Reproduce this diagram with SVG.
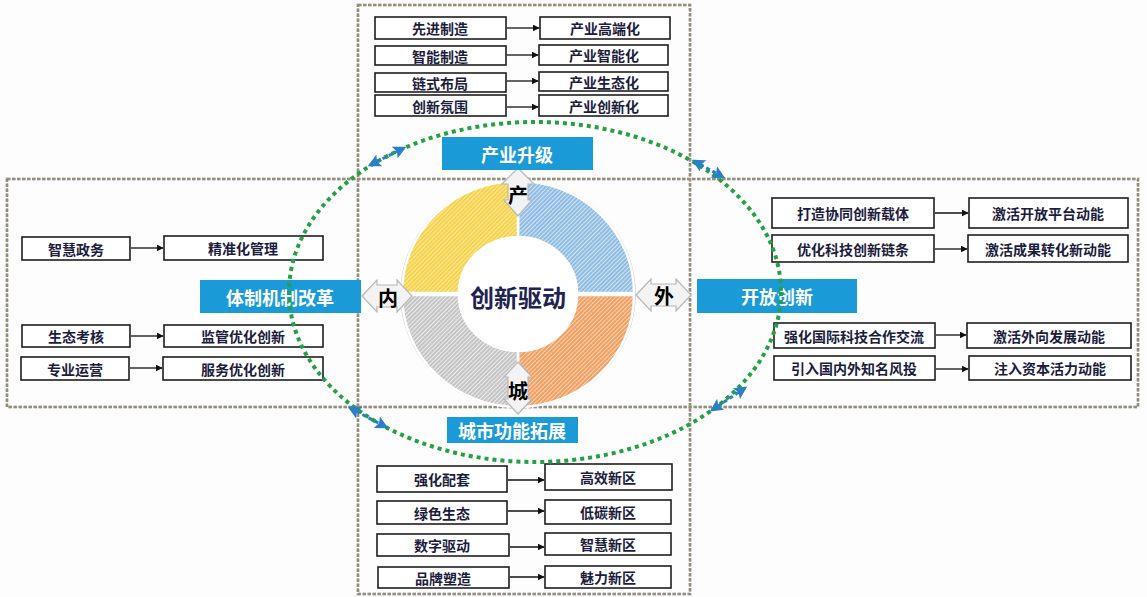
<svg xmlns="http://www.w3.org/2000/svg" width="1147" height="597" viewBox="0 0 1147 597">
<style>
.bg{fill:#fdfdfd}
.dp{fill:none;stroke:#d79ac4;stroke-width:3;stroke-dasharray:3.5 1.5}
.dg{fill:none;stroke:#6a9a55;stroke-width:1.6;stroke-dasharray:3.5 1.5}
.box{fill:#ffffff;stroke:#1e1e1e;stroke-width:1.6}
.bt{font-family:"Noto Sans CJK SC","Noto Sans",sans-serif;font-weight:700;font-size:14px;fill:#1c1c3c;text-anchor:middle;dominant-baseline:central}
.lab{fill:#1b9ad8}
.lt{font-family:"Noto Sans CJK SC","Noto Sans",sans-serif;font-weight:700;font-size:18px;fill:#ffffff;text-anchor:middle;dominant-baseline:central}
.conn{stroke:#111;stroke-width:1.3;fill:none;marker-end:url(#ah)}
.ell{fill:none;stroke:#25a043;stroke-width:4;stroke-dasharray:4 4}
.blue{stroke:#2b7fc6;stroke-width:3;stroke-dasharray:4 3;fill:none;marker-start:url(#bh);marker-end:url(#bh)}
.seg{stroke:#ffffff;stroke-width:2.5}
.tab{fill:#f3f3f3;stroke:#b8b8b8;stroke-width:1.2}
.tt{font-family:"Noto Sans CJK SC","Noto Sans",sans-serif;font-weight:700;font-size:20px;fill:#000;text-anchor:middle;dominant-baseline:central}
.ct{font-family:"Noto Sans CJK SC","Noto Sans",sans-serif;font-weight:700;font-size:24px;fill:#1e2352;text-anchor:middle;dominant-baseline:central}
</style>
<defs>
<marker id="ah" viewBox="0 0 10 10" refX="9" refY="5" markerWidth="7" markerHeight="7" markerUnits="userSpaceOnUse" orient="auto"><path d="M0,0 L10,5 L0,10 Z" fill="#111"/></marker>
<marker id="bh" viewBox="0 0 10 10" refX="8" refY="5" markerWidth="13" markerHeight="13" markerUnits="userSpaceOnUse" orient="auto-start-reverse"><path d="M0,0 L10,5 L0,10 L2,5 Z" fill="#2b7fc6"/></marker>
<pattern id="hy" patternUnits="userSpaceOnUse" width="3" height="3" patternTransform="rotate(45)"><rect width="3" height="3" fill="#f4d24a"/><rect width="1" height="3" fill="#fbe9a0"/></pattern>
<pattern id="hb" patternUnits="userSpaceOnUse" width="3" height="3" patternTransform="rotate(45)"><rect width="3" height="3" fill="#8fbce3"/><rect width="1" height="3" fill="#d2e4f4"/></pattern>
<pattern id="ho" patternUnits="userSpaceOnUse" width="3" height="3" patternTransform="rotate(45)"><rect width="3" height="3" fill="#f0a062"/><rect width="1" height="3" fill="#fad2b4"/></pattern>
<pattern id="hg" patternUnits="userSpaceOnUse" width="3" height="3" patternTransform="rotate(45)"><rect width="3" height="3" fill="#c4c4c4"/><rect width="1" height="3" fill="#ececec"/></pattern>
</defs>
<rect class="bg" x="0" y="0" width="1147" height="597"/>

<g id="frames">
<rect class="dp" x="358" y="5" width="332" height="589"/>
<rect class="dg" x="358" y="5" width="332" height="589"/>
<rect class="dp" x="7" y="179" width="1131" height="228"/>
<rect class="dg" x="7" y="179" width="1131" height="228"/>
</g>

<g id="ring">
<ellipse cx="518" cy="294" rx="117" ry="113" fill="none" stroke="#bdbdbd" stroke-width="1.5"/>
<path class="seg" fill="url(#hb)" d="M518,181 A116,112 0 0 1 634,293 L577,293 A59,56 0 0 0 518,237 Z"/>
<path class="seg" fill="url(#ho)" d="M634,295 A116,112 0 0 1 518,407 L518,351 A59,56 0 0 0 577,295 Z"/>
<path class="seg" fill="url(#hg)" d="M518,407 A116,112 0 0 1 402,295 L459,295 A59,56 0 0 0 518,351 Z"/>
<path class="seg" fill="url(#hy)" d="M402,293 A116,112 0 0 1 518,181 L518,237 A59,56 0 0 0 459,293 Z"/>
<ellipse cx="518" cy="294" rx="58" ry="55" fill="#ffffff"/>
<text class="ct" x="518" y="296">创新驱动</text>
</g>

<g id="tab-chan">
<polygon class="tab" points="518,168 534,184 528,184 528,200 532,200 518,216 504,200 508,200 508,184 502,184"/>
<text class="tt" x="518" y="194">产</text>
</g>
<g id="tab-cheng">
<polygon class="tab" points="518,362 532,377 528,377 528,399 532,399 518,414 504,399 508,399 508,377 504,377"/>
<text class="tt" x="518" y="390">城</text>
</g>
<g id="tab-nei">
<polygon class="tab" points="362,296 377,280 377,285 397,285 397,280 412,296 397,312 397,307 377,307 377,312"/>
<text class="tt" x="388" y="297">内</text>
</g>
<g id="tab-wai">
<polygon class="tab" points="636,295 651,279 651,284 676,284 676,279 691,295 676,311 676,306 651,306 651,311"/>
<text class="tt" x="664" y="295">外</text>
</g>

<g id="label-top"><rect class="lab" x="442" y="137" width="151" height="33"/><text class="lt" x="517" y="154">产业升级</text></g>
<g id="label-left"><rect class="lab" x="200" y="280" width="161" height="33"/><text class="lt" x="280" y="297">体制机制改革</text></g>
<g id="label-right"><rect class="lab" x="697" y="279" width="160" height="34"/><text class="lt" x="777" y="296">开放创新</text></g>
<g id="label-bottom"><rect class="lab" x="447" y="417" width="131" height="26"/><text class="lt" x="512" y="430">城市功能拓展</text></g>

<g id="top-nodes">
<g id="t1a"><rect class="box" x="375" y="17" width="131" height="22"/><text class="bt" x="440" y="28">先进制造</text></g>
<g id="t1b"><rect class="box" x="540" y="17" width="130" height="22"/><text class="bt" x="605" y="28">产业高端化</text></g>
<g id="t2a"><rect class="box" x="375" y="46" width="131" height="19"/><text class="bt" x="440" y="55.5">智能制造</text></g>
<g id="t2b"><rect class="box" x="539" y="45" width="129" height="20"/><text class="bt" x="604" y="55">产业智能化</text></g>
<g id="t3a"><rect class="box" x="375" y="73" width="131" height="19"/><text class="bt" x="440" y="82.5">链式布局</text></g>
<g id="t3b"><rect class="box" x="539" y="72" width="129" height="19"/><text class="bt" x="604" y="81.5">产业生态化</text></g>
<g id="t4a"><rect class="box" x="375" y="95" width="131" height="21"/><text class="bt" x="440" y="105.5">创新氛围</text></g>
<g id="t4b"><rect class="box" x="539" y="95" width="129" height="21"/><text class="bt" x="604" y="105.5">产业创新化</text></g>
</g>

<g id="left-nodes">
<g id="l1a"><rect class="box" x="22" y="237" width="108" height="23"/><text class="bt" x="76" y="248.5">智慧政务</text></g>
<g id="l1b"><rect class="box" x="164" y="236" width="159" height="24"/><text class="bt" x="243" y="248">精准化管理</text></g>
<g id="l2a"><rect class="box" x="22" y="325" width="108" height="22"/><text class="bt" x="76" y="336">生态考核</text></g>
<g id="l2b"><rect class="box" x="164" y="325" width="159" height="22"/><text class="bt" x="243" y="336">监管优化创新</text></g>
<g id="l3a"><rect class="box" x="21" y="357" width="108" height="23"/><text class="bt" x="75" y="368.5">专业运营</text></g>
<g id="l3b"><rect class="box" x="163" y="357" width="160" height="23"/><text class="bt" x="243" y="368.5">服务优化创新</text></g>
</g>

<g id="right-nodes">
<g id="r1a"><rect class="box" x="772" y="198" width="162" height="30"/><text class="bt" x="853" y="213">打造协同创新载体</text></g>
<g id="r1b"><rect class="box" x="969" y="198" width="159" height="30"/><text class="bt" x="1048" y="213">激活开放平台动能</text></g>
<g id="r2a"><rect class="box" x="772" y="235" width="162" height="27"/><text class="bt" x="853" y="248.5">优化科技创新链条</text></g>
<g id="r2b"><rect class="box" x="968" y="235" width="160" height="27"/><text class="bt" x="1048" y="248.5">激活成果转化新动能</text></g>
<g id="r3a"><rect class="box" x="774" y="323" width="161" height="25"/><text class="bt" x="854" y="335.5">强化国际科技合作交流</text></g>
<g id="r3b"><rect class="box" x="967" y="323" width="164" height="25"/><text class="bt" x="1049" y="335.5">激活外向发展动能</text></g>
<g id="r4a"><rect class="box" x="774" y="356" width="161" height="24"/><text class="bt" x="854" y="368">引入国内外知名风投</text></g>
<g id="r4b"><rect class="box" x="969" y="356" width="162" height="24"/><text class="bt" x="1050" y="368">注入资本活力动能</text></g>
</g>

<g id="bottom-nodes">
<g id="b1a"><rect class="box" x="377" y="466" width="130" height="26"/><text class="bt" x="442" y="479">强化配套</text></g>
<g id="b1b"><rect class="box" x="545" y="464" width="127" height="26"/><text class="bt" x="608" y="477">高效新区</text></g>
<g id="b2a"><rect class="box" x="377" y="501" width="130" height="23"/><text class="bt" x="442" y="512.5">绿色生态</text></g>
<g id="b2b"><rect class="box" x="545" y="500" width="126" height="24"/><text class="bt" x="608" y="512">低碳新区</text></g>
<g id="b3a"><rect class="box" x="377" y="534" width="132" height="22"/><text class="bt" x="442" y="545">数字驱动</text></g>
<g id="b3b"><rect class="box" x="545" y="533" width="126" height="22"/><text class="bt" x="608" y="544">智慧新区</text></g>
<g id="b4a"><rect class="box" x="378" y="567" width="131" height="21"/><text class="bt" x="443" y="577.5">品牌塑造</text></g>
<g id="b4b"><rect class="box" x="545" y="566" width="126" height="22"/><text class="bt" x="608" y="577">魅力新区</text></g>
</g>

<g id="connectors">
<line class="conn" x1="507" y1="28" x2="539" y2="28"/>
<line class="conn" x1="507" y1="55" x2="538" y2="55"/>
<line class="conn" x1="507" y1="81" x2="538" y2="81"/>
<line class="conn" x1="507" y1="107" x2="538" y2="107"/>
<line class="conn" x1="131" y1="248" x2="163" y2="248"/>
<line class="conn" x1="131" y1="336" x2="163" y2="336"/>
<line class="conn" x1="130" y1="368" x2="162" y2="368"/>
<line class="conn" x1="935" y1="213" x2="968" y2="213"/>
<line class="conn" x1="935" y1="249" x2="967" y2="249"/>
<line class="conn" x1="936" y1="335" x2="966" y2="335"/>
<line class="conn" x1="936" y1="369" x2="968" y2="369"/>
<line class="conn" x1="508" y1="480" x2="544" y2="480"/>
<line class="conn" x1="508" y1="511" x2="544" y2="511"/>
<line class="conn" x1="510" y1="547" x2="544" y2="547"/>
<line class="conn" x1="510" y1="577" x2="544" y2="577"/>
</g>

<g id="cycle">
<ellipse class="ell" cx="535" cy="292" rx="246" ry="170"/>
<line class="blue" x1="370" y1="165" x2="404" y2="148"/>
<line class="blue" x1="694" y1="161" x2="723" y2="177"/>
<line class="blue" x1="350" y1="408" x2="386" y2="427"/>
<line class="blue" x1="712" y1="410" x2="745" y2="388"/>
</g>
</svg>
